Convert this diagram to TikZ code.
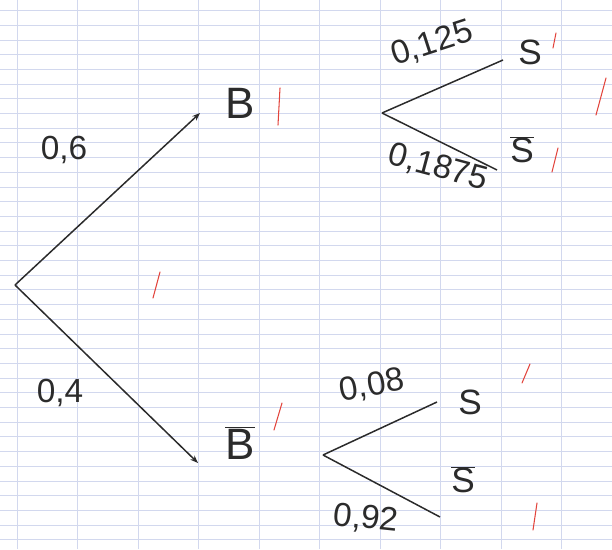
\documentclass[tikz,border=0pt]{standalone}
\usepackage{fontspec}
\setmainfont{Liberation Sans}
\usepackage{tikz}
\usetikzlibrary{positioning,arrows.meta}
\definecolor{ink}{HTML}{2B2B2B}
\definecolor{paper}{HTML}{D2D8EE}
\definecolor{mark}{HTML}{E2443C}

\begin{document}
\begin{tikzpicture}[x=0.04cm, y=-0.04cm,
      every node/.style={text=ink, inner sep=0pt},
      event/.style={font=\fontsize{50}{52}\selectfont},
      small/.style={font=\fontsize{40}{42}\selectfont},
      prob/.style={font=\fontsize{38}{40}\selectfont},
      branch/.style={draw=ink, line width=1.7pt},
      tick/.style={draw=mark, line width=1.2pt, line cap=round}]
    \useasboundingbox (0,0) rectangle (612,549);
    % paper
    \foreach \k in {0,...,36}
      \draw[paper, line width=0.6pt] (0,10.4+14.7*\k) -- (612,10.4+14.7*\k);
    \foreach \k in {0,...,9}
      \draw[paper, line width=0.7pt] (17+60.5*\k,0) -- (17+60.5*\k,549);
    % first level
    \coordinate (root) at (15,285);
    \coordinate (tipB) at (200,113);
    \coordinate (tipBb) at (198,463);
    \node[event] (B) at (240,103) {B};
    \node[event] (Bb) at (240,443) {$\overline{\mbox{B}}$};
    \draw[branch, -{Stealth[length=9pt]}] (root) -- (tipB);
    \draw[branch, -{Stealth[length=9pt]}] (root) -- (tipBb);
    \node[prob] (p1) at (64,150) {0,6};
    \node[prob] (p2) at (60,393) {0,4};
    % second level, under B
    \coordinate (nB) at (382,113);
    \coordinate (eS1) at (503,60);
    \coordinate (eSb1) at (497,170);
    \node[small] (S1) at (530,52) {S};
    \node[small] (Sb1) at (522,150) {$\overline{\mbox{S}}$};
    \draw[branch] (nB) -- (eS1);
    \draw[branch] (nB) -- (eSb1);
    \node[prob, rotate=18] (p3) at (432,44) {0,125};
    \node[prob, rotate=-15] (p4) at (438,168) {0,1875};
    % second level, under B bar
    \coordinate (nBb) at (323,455);
    \coordinate (eS2) at (437,402);
    \coordinate (eSb2) at (440,517);
    \node[small] (S2) at (470,402) {S};
    \node[small] (Sb2) at (463,480) {$\overline{\mbox{S}}$};
    \draw[branch] (nBb) -- (eS2);
    \draw[branch] (nBb) -- (eSb2);
    \node[prob, rotate=10] (p5) at (372,386) {0,08};
    \node[prob, rotate=-6] (p6) at (366,519) {0,92};
    % red marks
    \draw[tick] (278,125) -- (280,88);
    \draw[tick] (153,298) -- (160,272);
    \draw[tick] (274,430) -- (282,403);
    \draw[tick] (553,48) -- (556,33);
    \draw[tick] (596,115) -- (606,78);
    \draw[tick] (552,172) -- (558,148);
    \draw[tick] (522,383) -- (530,364);
    \draw[tick] (533,530) -- (537,503);
  \end{tikzpicture}
\end{document}
